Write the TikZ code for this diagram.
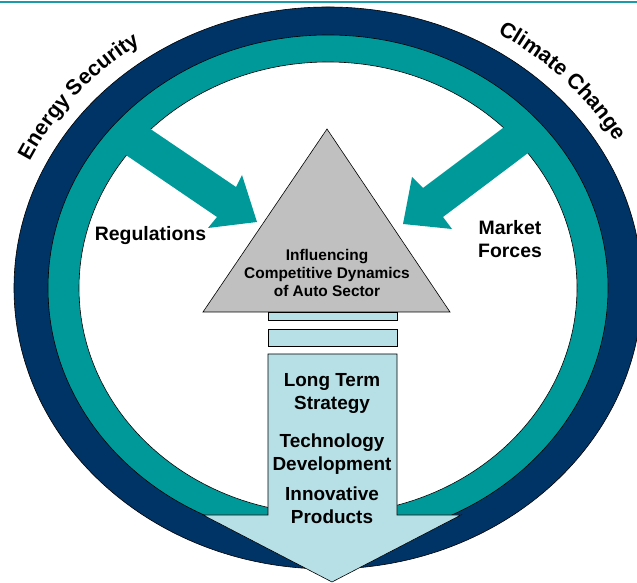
\documentclass[tikz,border=0pt]{standalone}
\usepackage{fontspec}
\setmainfont{Liberation Sans}
\usetikzlibrary{decorations.text}

\definecolor{ringnavy}{RGB}{0,51,102}
\definecolor{ringteal}{RGB}{0,153,153}
\definecolor{ruleteal}{RGB}{27,154,170}
\definecolor{trigrey}{RGB}{192,192,192}
\definecolor{flowblue}{RGB}{183,224,230}

\newcommand{\ringfont}{\bfseries\fontsize{21.5}{21.5}\selectfont}

\tikzset{
  outline/.style={draw=black, line width=0.6pt},
  tritext/.style={font=\bfseries\fontsize{15.5}{18.5}\selectfont, align=center},
  flowtext/.style={font=\bfseries\fontsize{19}{23}\selectfont, align=center},
  forcetext/.style={font=\bfseries\fontsize{19.5}{23}\selectfont, align=center},
}

\begin{document}
\begin{tikzpicture}[x=1bp,y=1bp]
  \useasboundingbox (0,0) rectangle (637,583);
  \clip (0,0) rectangle (637,583);
  \coordinate (c) at (328,295);

  % header rule
  \draw[ruleteal, line width=2bp] (0,580.5) -- (637,580.5);

  % Rings
  \draw[outline, fill=ringnavy] (c) ellipse [x radius=314bp, y radius=281bp];
  \draw[outline, fill=ringteal] (c) ellipse [x radius=280bp, y radius=253bp];
  \draw[outline, fill=white] (c) ellipse [x radius=249bp, y radius=226bp];

  % Forces coming off the ring
  \fill[ringteal] (109,439.5) -- (217,366) -- (208,355) -- (257,361)
    -- (242,408) -- (236,396) -- (129,468.5) -- cycle;
  \fill[ringteal] (544,442) -- (443,366) -- (452,354) -- (403,359)
    -- (412,406) -- (423,395) -- (523,470) -- cycle;

  % Triangle and the flow below it
  \draw[outline, fill=flowblue] (268,263) rectangle (397,271);
  \draw[outline, fill=flowblue] (268,237) rectangle (397,254);
  \draw[outline, fill=trigrey] (203,271) -- (327,454) -- (450,271) -- cycle;
  \draw[outline, fill=flowblue] (268,229) -- (397,229) -- (397,68) -- (461,68)
    -- (332,1) -- (203,68) -- (268,68) -- cycle;

  % Labels
  \node[tritext] (dyn) at (327,310) {Influencing\\Competitive Dynamics\\of Auto Sector};
  \node[flowtext] (lts) at (332,189.5) {Long Term\\Strategy};
  \node[flowtext] (tech) at (332,128.5) {Technology\\Development};
  \node[flowtext] (innov) at (332,77.5) {Innovative\\Products};
  \node[forcetext] (reg) at (150.5,347) {Regulations};
  \node[forcetext] (mkt) at (510,343.5) {Market\\Forces};

  % Text round the outer ring
  \path[decorate, decoration={text along path, text align=center,
      text={|\ringfont|Energy Security}}]
    (c) ++(164:330bp and 297bp)
    arc[start angle=164, end angle=116, x radius=330bp, y radius=297bp];
  \path[decorate, decoration={text along path, text align=center,
      text={|\ringfont|Climate Change}}]
    (c) ++(68:330bp and 297bp)
    arc[start angle=68, end angle=20, x radius=330bp, y radius=297bp];
\end{tikzpicture}
\end{document}
